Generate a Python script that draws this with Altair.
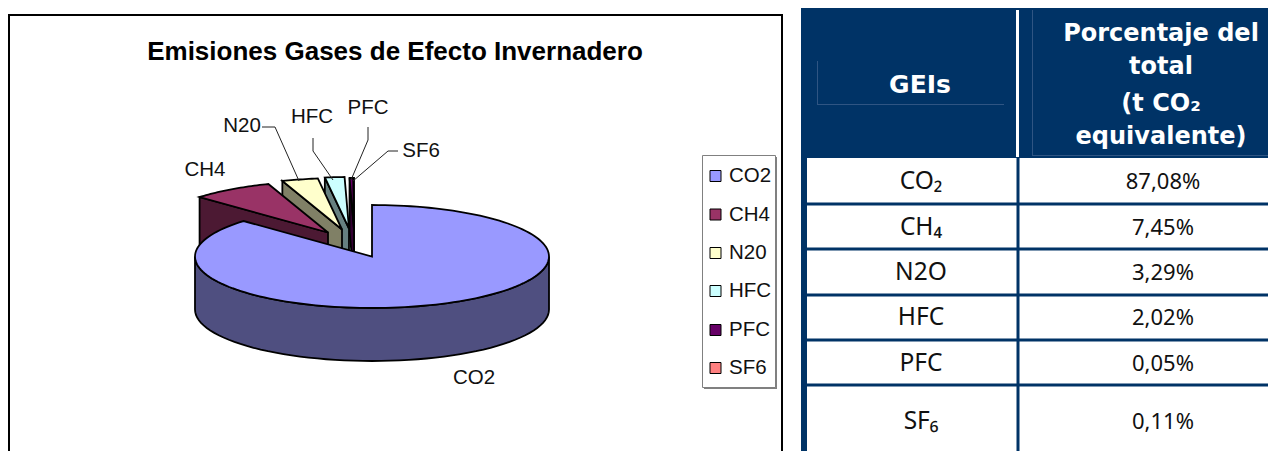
import math
import altair as alt
import pandas as pd

gases = ["CO2", "CH4", "N20", "HFC", "PFC", "SF6"]
pie_shares = [87.08, 7.45, 3.29, 1.78, 0.33, 0.07]
top_colors = ["#9999FF", "#993366", "#FFFFCC", "#CCFFFF", "#660066", "#FF8080"]
side_colors = ["#4F4F80", "#4C1933", "#808066", "#668080", "#330033", "#804040"]
explode_dx = [0, -44, -30, -23, -18, -18]
explode_dy = [0, -24, -27, -28, -27, -27]

table_names = ["CO₂", "CH₄", "N2O", "HFC", "PFC", "SF₆"]
table_values = ["87,08%", "7,45%", "3,29%", "2,02%", "0,05%", "0,11%"]
table_y = [182, 228, 273, 318, 364, 422]
row_lines = [204, 249, 295, 340, 385]

W, H = 1260, 443
CX, CY, RX, RY, DEPTH = 372, 256.5, 177, 51.5, 53
NAVY = "#003366"

X = alt.X("x:Q", scale=alt.Scale(domain=[8, 1268], nice=False, zero=False), axis=None)
Y = alt.Y("y:Q", scale=alt.Scale(domain=[451, 8], nice=False, zero=False), axis=None)


def rects(rows, **mark):
    df = pd.DataFrame(rows, columns=["x", "x2", "y", "y2"])
    return alt.Chart(df).mark_rect(**mark).encode(x=X, x2="x2:Q", y=Y, y2="y2:Q")


def poly(points, fill, width=1.8):
    df = pd.DataFrame({"x": [p[0] for p in points], "y": [p[1] for p in points], "i": range(len(points))})
    return alt.Chart(df).mark_line(
        interpolate="linear-closed", fill=fill, stroke="black", strokeWidth=width
    ).encode(x=X, y=Y, order="i:Q")


def path(points, width=1):
    df = pd.DataFrame({"x": [p[0] for p in points], "y": [p[1] for p in points], "i": range(len(points))})
    return alt.Chart(df).mark_line(color="#222222", strokeWidth=width).encode(x=X, y=Y, order="i:Q")


def texts(xs, ys, labels, **mark):
    df = pd.DataFrame({"x": xs, "y": ys, "t": labels})
    return alt.Chart(df).mark_text(baseline="middle", **mark).encode(x=X, y=Y, text="t:N")


def pt(deg, dx=0, dy=0):
    a = math.radians(deg)
    return (CX + RX * math.sin(a) + dx, CY - RY * math.cos(a) + dy)


layers = []
# chart frame
layers.append(rects([[9, 782, 15, 470]], fillOpacity=0, stroke="black", strokeWidth=2))

# pie slices, back to front
starts, acc = [], 0.0
for s in pie_shares:
    starts.append(acc)
    acc += s
for k in [5, 4, 3, 2, 1]:
    a0, a1 = starts[k] * 3.6, (starts[k] + pie_shares[k]) * 3.6
    dx, dy = explode_dx[k], explode_dy[k]
    apex = (CX + dx, CY + dy)
    outer0 = pt(a0, dx, dy)
    layers.append(poly([apex, outer0, (outer0[0], outer0[1] + DEPTH), (apex[0], apex[1] + DEPTH)], side_colors[k]))
    n = max(2, int(a1 - a0) + 2)
    arc = [pt(a0 + (a1 - a0) * i / (n - 1), dx, dy) for i in range(n)]
    layers.append(poly([apex] + arc, top_colors[k]))

# CO2 side wall and top
end = pie_shares[0] * 3.6
front = [pt(d) for d in range(90, 271, 3)]
layers.append(poly(front + [(x, y + DEPTH) for x, y in reversed(front)], side_colors[0]))
arc = [pt(end * i / 150) for i in range(151)]
layers.append(poly([(CX, CY)] + arc, top_colors[0]))

# leader lines
layers.append(path([(262, 127), (275, 127), (299, 181)]))
layers.append(path([(313, 138), (313, 151), (333, 180)]))
layers.append(path([(368, 127), (368, 140), (351, 180)]))
layers.append(path([(398, 151), (388, 151), (353, 181)]))

font = "Liberation Sans"
layers.append(texts([395], [52], ["Emisiones Gases de Efecto Invernadero"],
                    font=font, fontSize=26, fontWeight="bold", color="black", align="center"))
layers.append(texts([205, 242, 312, 368, 421, 474], [170, 126, 117, 108, 151, 378],
                    ["CH4", "N20", "HFC", "PFC", "SF6", "CO2"],
                    font=font, fontSize=20.5, color="#111111", align="center"))

# legend
layers.append(rects([[704, 777, 157, 389]], fill="#808080"))
layers.append(rects([[702.5, 775.5, 155.5, 387.5]], fill="white", stroke="#808080", strokeWidth=1))
legend_y = [176, 214.5, 253, 291, 330, 368]
for k, y in enumerate(legend_y):
    layers.append(rects([[710, 721, y - 5.5, y + 5.5]], fill=top_colors[k], stroke="black", strokeWidth=1))
layers.append(texts([729] * 6, legend_y, gases, font=font, fontSize=20.5, color="#111111", align="left"))

# table
layers.append(rects([[801, 1280, 8, 158]], fill=NAVY))
layers.append(rects([[801, 807, 8, 460], [1016.5, 1019.5, 158, 460]], fill=NAVY))
layers.append(rects([[1016, 1019, 10, 157]], fill="white"))
layers.append(rects([[801, 1280, y - 1.5, y + 1.5] for y in row_lines], fill=NAVY))
layers.append(rects([[817, 818, 61, 105], [817, 1004, 104, 105], [1032, 1033, 10, 156], [1032, 1268, 155, 156]],
                    fill="#2F5583"))
head = "DejaVu Sans"
layers.append(texts([920], [85], ["GEIs"], font=head, fontSize=25, fontWeight="bold", color="white", align="center"))
layers.append(texts([1161, 1161, 1161, 1161], [34, 67, 104, 137],
                    ["Porcentaje del", "total", "(t CO₂", "equivalente)"],
                    font=head, fontSize=24, fontWeight="bold", color="white", align="center"))
body = "Noto Sans"
layers.append(texts([921] * 6, table_y, table_names, font=body, fontSize=24.5, color="#111111", align="center"))
layers.append(texts([1163] * 6, table_y, table_values, font=body, fontSize=22, color="#111111", align="center"))

chart = alt.layer(*layers).properties(
    width=W, height=H, padding=0, autosize=alt.AutoSizeParams(type="none"), background="white"
).configure_view(stroke=None)

chart.save("out.html", embed_options={"renderer": "svg", "actions": False})
